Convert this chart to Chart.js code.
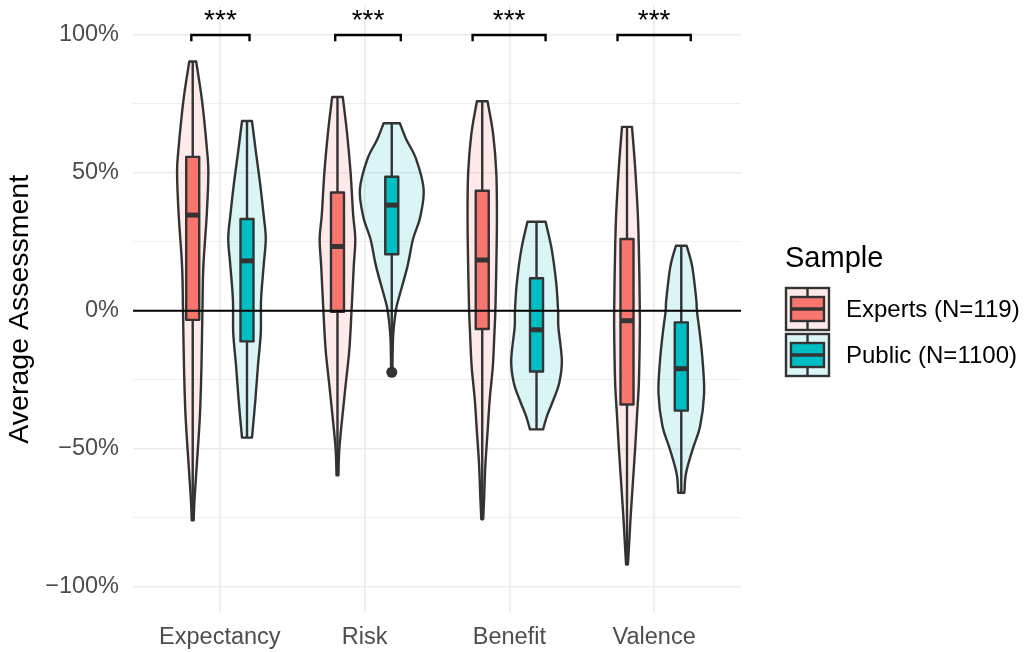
<!DOCTYPE html>
<html>
<head>
<meta charset="UTF-8">
<title>Average Assessment</title>
<script src="https://cdn.jsdelivr.net/npm/chart.js@4.4.1/dist/chart.umd.min.js"></script>
<style>
  html, body { margin: 0; padding: 0; background: #fff; }
  #chart { display: block; }
</style>
</head>
<body>
<canvas id="chart" width="1024" height="652"></canvas>
<script>
  var FONT = '"Liberation Sans", Arial, Helvetica, sans-serif';

  var categories = ['Expectancy', 'Risk', 'Benefit', 'Valence'];
  var sampleNames = ['Experts (N=119)', 'Public (N=1100)'];
  var yTickValues = [-100, -75, -50, -25, 0, 25, 50, 75, 100];
  var significance = ['***', '***', '***', '***'];
  // bracket ends, relative to the category centre
  var bracketFrom = [-0.197, -0.203, -0.254, -0.253];
  var bracketTo = [0.205, 0.25, 0.25, 0.253];

  // [lower whisker, Q1, median, Q3, upper whisker]
  var expertsBox = [
    [-76, -3.3, 34.7, 55.8, 90.4],
    [-59.7, -0.4, 23.3, 42.9, 77.5],
    [-75.6, -6.6, 18.4, 43.5, 76],
    [-92, -34, -3.6, 26, 66.7]
  ];
  var publicBox = [
    [-46, -11.1, 18.1, 33.3, 68.8],
    [-11, 20.5, 38.3, 48.6, 68],
    [-43, -22, -6.9, 11.8, 32.3],
    [-66, -36.2, -21, -4.2, 23.6]
  ];
  var expertsOutliers = [[], [], [], []];
  var publicOutliers = [[], [-22.3], [], []];

  // violin outlines: values from top to bottom and relative density there
  var expertsViolinY = [
    [90.4, 76, 58, 50, 35, 16, 0, -20, -38, -56, -68, -76],
    [77.5, 64, 50, 35, 26, 16, 0, -14, -26, -38, -50, -59.7],
    [76, 64, 50, 34, 16, 0, -8, -20, -32, -44, -56, -68, -75.6],
    [66.7, 52, 34, 16, 0, -8, -26, -38, -50, -62, -74, -86, -92]
  ];
  var expertsViolinD = [
    [0.11, 0.30, 0.46, 0.50, 0.45, 0.34, 0.31, 0.28, 0.23, 0.13, 0.06, 0.03],
    [0.17, 0.31, 0.42, 0.50, 0.57, 0.52, 0.45, 0.38, 0.27, 0.16, 0.06, 0.03],
    [0.17, 0.35, 0.45, 0.47, 0.45, 0.42, 0.39, 0.34, 0.24, 0.17, 0.10, 0.06, 0.03],
    [0.16, 0.26, 0.35, 0.39, 0.41, 0.41, 0.38, 0.32, 0.26, 0.19, 0.12, 0.06, 0.03]
  ];
  var publicViolinY = [
    [68.8, 58, 46, 34, 26, 16, 4, -8, -20, -32, -46],
    [68, 62, 55, 44, 34, 26, 16, 4, 0, -8, -14, -22.3],
    [32.3, 22, 10, 0, -6, -18, -26, -32, -38, -43],
    [23.6, 16, 4, 0, -8, -18, -30, -42, -50, -59, -66]
  ];
  var publicViolinD = [
    [0.16, 0.28, 0.42, 0.54, 0.60, 0.53, 0.45, 0.44, 0.35, 0.27, 0.16],
    [0.26, 0.47, 0.78, 1.02, 0.91, 0.68, 0.50, 0.21, 0.13, 0.05, 0.03, 0.02],
    [0.29, 0.49, 0.63, 0.69, 0.70, 0.81, 0.73, 0.55, 0.34, 0.21],
    [0.17, 0.35, 0.48, 0.50, 0.59, 0.68, 0.73, 0.60, 0.37, 0.15, 0.10]
  ];

  var DODGE = 0.1875;
  var VIOLIN_SCALE = 0.216;
  var BOX_HALF = 0.045;
  var LINE = '#333333';
  var LW = 2.4;

  var groups = [
    { box: expertsBox, vy: expertsViolinY, vd: expertsViolinD, outliers: expertsOutliers,
      color: '#F8766D', fill: 'rgba(248,118,109,0.15)', offset: -DODGE },
    { box: publicBox, vy: publicViolinY, vd: publicViolinD, outliers: publicOutliers,
      color: '#00BFC4', fill: 'rgba(0,191,196,0.15)', offset: DODGE }
  ];

  function curveThrough(ctx, pts){
    for(var i=0;i<pts.length-1;i++){
      var p0 = pts[i-1] || pts[i], p1 = pts[i], p2 = pts[i+1], p3 = pts[i+2] || pts[i+1];
      ctx.bezierCurveTo(
        p1.x + (p2.x-p0.x)/6, p1.y + (p2.y-p0.y)/6,
        p2.x - (p3.x-p1.x)/6, p2.y - (p3.y-p1.y)/6,
        p2.x, p2.y);
    }
  }

  function drawViolin(ctx, xs, ys, cx, values, dens){
    var unit = xs.getPixelForValue(1) - xs.getPixelForValue(0);
    var right = values.map(function(v, k){ return { x: cx + dens[k]*VIOLIN_SCALE*unit, y: ys.getPixelForValue(v) }; });
    var left = values.map(function(v, k){ return { x: cx - dens[k]*VIOLIN_SCALE*unit, y: ys.getPixelForValue(v) }; }).reverse();
    ctx.beginPath();
    ctx.moveTo(right[0].x, right[0].y);
    curveThrough(ctx, right);
    ctx.lineTo(left[0].x, left[0].y);
    curveThrough(ctx, left);
    ctx.closePath();
    ctx.fill();
    ctx.stroke();
  }

  function drawBox(ctx, xs, ys, center, stats, color){
    var x0 = xs.getPixelForValue(center - BOX_HALF), x1 = xs.getPixelForValue(center + BOX_HALF);
    var cx = xs.getPixelForValue(center);
    var py = stats.map(function(v){ return ys.getPixelForValue(v); });
    ctx.strokeStyle = LINE;
    ctx.lineWidth = LW;
    ctx.beginPath();
    ctx.moveTo(cx, py[0]); ctx.lineTo(cx, py[1]);
    ctx.moveTo(cx, py[3]); ctx.lineTo(cx, py[4]);
    ctx.stroke();
    ctx.fillStyle = color;
    ctx.fillRect(x0, py[3], x1-x0, py[1]-py[3]);
    ctx.strokeRect(x0, py[3], x1-x0, py[1]-py[3]);
    ctx.lineWidth = 5;
    ctx.beginPath();
    ctx.moveTo(x0, py[2]); ctx.lineTo(x1, py[2]);
    ctx.stroke();
  }

  function fmtPercent(v){
    return (v < 0 ? '\u2212' : '') + Math.abs(v) + '%';
  }

  var violinPlugin = {
    id: 'violins',
    beforeDatasetsDraw: function(chart){
      var ctx = chart.ctx, xs = chart.scales.x, ys = chart.scales.y;
      ctx.save();
      ctx.lineJoin = 'round';
      categories.forEach(function(cat, i){
        groups.forEach(function(g){
          var cx = xs.getPixelForValue(i + 1 + g.offset);
          ctx.fillStyle = g.fill;
          ctx.strokeStyle = LINE;
          ctx.lineWidth = LW;
          drawViolin(ctx, xs, ys, cx, g.vy[i], g.vd[i]);
          drawBox(ctx, xs, ys, i + 1 + g.offset, g.box[i], g.color);
        });
      });
      ctx.restore();
    },
    afterDatasetsDraw: function(chart){
      var ctx = chart.ctx, xs = chart.scales.x, ys = chart.scales.y, area = chart.chartArea;
      ctx.save();
      // zero reference line
      var y0 = ys.getPixelForValue(0);
      ctx.strokeStyle = '#000';
      ctx.lineWidth = 2.2;
      ctx.beginPath();
      ctx.moveTo(area.left, y0); ctx.lineTo(area.right, y0);
      ctx.stroke();
      // significance brackets
      var yb = ys.getPixelForValue(100), yt = ys.getPixelForValue(97.7), ys_ = ys.getPixelForValue(102.4);
      ctx.lineWidth = 2.4;
      ctx.lineJoin = 'miter';
      ctx.fillStyle = '#000';
      ctx.font = '28px ' + FONT;
      ctx.textAlign = 'center';
      ctx.textBaseline = 'alphabetic';
      categories.forEach(function(cat, i){
        var xl = xs.getPixelForValue(i + 1 + bracketFrom[i]);
        var xr = xs.getPixelForValue(i + 1 + bracketTo[i]);
        ctx.beginPath();
        ctx.moveTo(xl, yt); ctx.lineTo(xl, yb); ctx.lineTo(xr, yb); ctx.lineTo(xr, yt);
        ctx.stroke();
        ctx.fillText(significance[i], (xl + xr)/2, ys_ + 0.5);
      });
      ctx.restore();
    },
    afterDraw: function(chart){
      var ctx = chart.ctx;
      ctx.save();
      ctx.fillStyle = '#000';
      ctx.font = '29px ' + FONT;
      ctx.textAlign = 'left';
      ctx.textBaseline = 'alphabetic';
      ctx.fillText('Sample', 785, 267);
      var keyX = 785, keyW = 45, keyH = 44, keyTops = [287, 333];
      groups.forEach(function(g, k){
        var top = keyTops[k];
        ctx.fillStyle = '#fff';
        ctx.fillRect(keyX, top, keyW, keyH);
        ctx.fillStyle = g.fill;
        ctx.strokeStyle = LINE;
        ctx.lineWidth = LW;
        ctx.fillRect(keyX, top, keyW, keyH);
        ctx.strokeRect(keyX + 1, top + 1, keyW - 2, keyH - 2);
        var cx = keyX + keyW/2, bx0 = keyX + 6, bx1 = keyX + keyW - 6;
        var bt = top + 10, bb = top + keyH - 10, bm = top + keyH/2;
        ctx.beginPath();
        ctx.moveTo(cx, top + 1); ctx.lineTo(cx, bt);
        ctx.moveTo(cx, bb); ctx.lineTo(cx, top + keyH - 1);
        ctx.stroke();
        ctx.fillStyle = g.color;
        ctx.fillRect(bx0, bt, bx1 - bx0, bb - bt);
        ctx.strokeRect(bx0, bt, bx1 - bx0, bb - bt);
        ctx.lineWidth = 3.5;
        ctx.beginPath();
        ctx.moveTo(bx0, bm); ctx.lineTo(bx1, bm);
        ctx.stroke();
        ctx.fillStyle = '#000';
        ctx.font = '24px ' + FONT;
        ctx.textBaseline = 'middle';
        ctx.fillText(sampleNames[k], 846, bm + 1);
      });
      ctx.restore();
    }
  };

  var outlierPoints = [];
  groups.forEach(function(g){
    g.outliers.forEach(function(list, i){
      list.forEach(function(v){ outlierPoints.push({ x: i + 1 + g.offset, y: v }); });
    });
  });

  new Chart(document.getElementById('chart'), {
    type: 'scatter',
    data: {
      datasets: [{
        label: 'outliers',
        data: outlierPoints,
        pointRadius: 5.5,
        pointHoverRadius: 5.5,
        backgroundColor: LINE,
        borderWidth: 0
      }]
    },
    options: {
      responsive: false,
      animation: false,
      layout: { padding: { left: 0, right: 283, top: 5, bottom: 0 } },
      plugins: { legend: { display: false }, tooltip: { enabled: false } },
      scales: {
        x: {
          type: 'linear',
          min: 0.4,
          max: 4.6,
          afterBuildTicks: function(s){ s.ticks = categories.map(function(c, i){ return { value: i + 1 }; }); },
          afterFit: function(s){ s.height = 39; s.paddingLeft = 0; s.paddingRight = 0; },
          border: { display: false },
          grid: { color: '#EBEBEB', lineWidth: 1.6, drawTicks: false },
          ticks: {
            autoSkip: false,
            maxRotation: 0,
            padding: 10,
            color: '#4D4D4D',
            font: { family: FONT, size: 23.5 },
            callback: function(v){ return categories[Math.round(v) - 1]; }
          }
        },
        y: {
          type: 'linear',
          min: -109.6,
          max: 110.7,
          afterBuildTicks: function(s){ s.ticks = yTickValues.map(function(v){ return { value: v }; }); },
          afterFit: function(s){ s.width = 133; s.paddingTop = 0; s.paddingBottom = 0; },
          border: { display: false },
          grid: {
            color: '#EBEBEB',
            drawTicks: false,
            lineWidth: function(c){ return c.tick && c.tick.value % 50 === 0 ? 1.6 : 0.8; }
          },
          ticks: {
            autoSkip: false,
            padding: 14,
            color: '#4D4D4D',
            font: { family: FONT, size: 23.5 },
            callback: function(v){ return v % 50 === 0 ? fmtPercent(v) : ''; }
          },
          title: {
            display: true,
            text: 'Average Assessment',
            color: '#000',
            font: { family: FONT, size: 28.5 },
            padding: { top: 3, bottom: 0 }
          }
        }
      }
    },
    plugins: [violinPlugin]
  });
</script>
</body>
</html>
